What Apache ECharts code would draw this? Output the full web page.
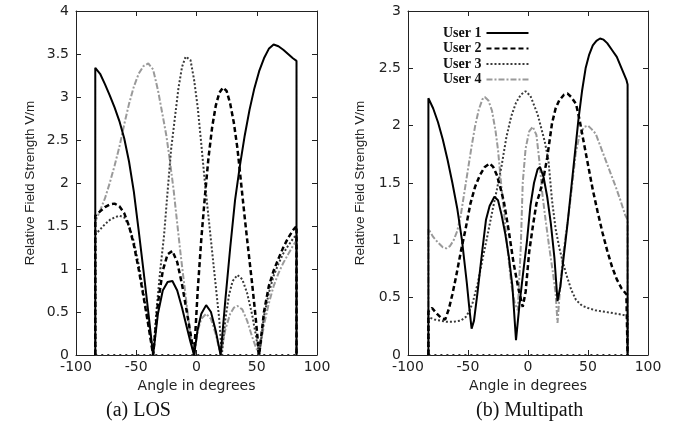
<!DOCTYPE html>
<html>
<head>
<meta charset="utf-8">
<script src="https://cdn.jsdelivr.net/npm/echarts@6/dist/echarts.min.js"></script>
<style>
html,body{margin:0;padding:0;background:#fff;}
#chart{width:683px;height:426px;}
</style>
</head>
<body>
<div id="chart"></div>
<script>
// ---------- Data ----------
const userNames = ['User 1', 'User 2', 'User 3', 'User 4'];
const xTicks = [-100, -50, 0, 50, 100];
const losYMax = 4;
const mpYMax = 3;

// (a) LOS
const losU1Ang = [-84,-84,-80,-76,-72,-68,-64,-60,-56,-52,-48,-44,-40,-36,-32,-28,-24,-20,-16,-12,-8,-5,-2,1,4,8,12,16,20,24,28,32,36,40,44,48,52,56,60,64,68,72,76,80,83,83];
const losU1Val = [0,3.34,3.27,3.15,3.02,2.88,2.72,2.52,2.25,1.9,1.45,0.98,0.5,0,0.48,0.75,0.85,0.86,0.75,0.55,0.32,0.15,0,0.3,0.48,0.58,0.5,0.28,0,0.65,1.25,1.8,2.2,2.55,2.85,3.1,3.3,3.45,3.56,3.61,3.59,3.55,3.5,3.45,3.42,0];

const losU2Ang = [-84,-84,-80,-76,-72,-68,-64,-60,-56,-52,-48,-44,-40,-36,-32,-28,-24,-20,-16,-12,-8,-5,-2,1,4,7,10,13,16,19,22,25,28,31,34,37,40,43,46,49,52,56,60,64,68,72,76,80,83,83];
const losU2Val = [0,1.62,1.67,1.72,1.75,1.76,1.73,1.65,1.5,1.28,1.0,0.68,0.35,0,0.6,0.98,1.17,1.21,1.08,0.82,0.5,0.25,0,0.75,1.35,1.85,2.3,2.65,2.9,3.05,3.11,3.07,2.92,2.7,2.4,2.0,1.6,1.22,0.85,0.45,0,0.5,0.8,0.98,1.12,1.25,1.36,1.45,1.5,0];

const losU3Ang = [-84,-84,-80,-76,-72,-68,-64,-60,-56,-52,-48,-44,-40,-36,-33,-30,-27,-24,-21,-18,-15,-12,-9,-7.5,-5,-2,1,4,7,10,13,16,19,21,24,27,30,34,38,42,46,49,52,56,60,64,68,72,76,80,83,83];
const losU3Val = [0,1.4,1.46,1.52,1.57,1.6,1.62,1.6,1.5,1.32,1.05,0.72,0.38,0,0.55,1.0,1.38,1.9,2.4,2.75,3.1,3.35,3.47,3.49,3.43,3.2,2.88,2.45,2.0,1.6,1.2,0.8,0.4,0,0.42,0.7,0.86,0.93,0.88,0.72,0.48,0.25,0,0.45,0.72,0.92,1.06,1.18,1.27,1.35,1.4,0];

const losU4Ang = [-84,-84,-80,-76,-72,-68,-64,-60,-56,-52,-48,-44,-40,-36,-32,-28,-25,-22,-19,-16,-13,-10,-7,-4,-2,1,4,8,12,16,20,24,28,31,34,38,42,46,49,52,56,60,64,68,72,76,80,83,83];
const losU4Val = [0,1.55,1.68,1.82,2.0,2.2,2.42,2.68,2.92,3.12,3.27,3.36,3.39,3.32,3.08,2.78,2.55,2.25,1.92,1.53,1.15,0.8,0.45,0.15,0,0.28,0.42,0.48,0.42,0.24,0,0.3,0.48,0.55,0.57,0.53,0.4,0.22,0.1,0,0.35,0.6,0.8,0.95,1.07,1.17,1.27,1.33,0];

// (b) Multipath
const mpU1Ang = [-83,-83,-79,-75,-71,-67,-63,-59,-55,-51,-49,-47,-45,-42,-38,-35,-32,-28,-25,-22,-19,-16,-13,-10,-7,-4,-1,2,5,8,10,13,16,19,22,24.6,27,30,33,36,39,42,45,48,51,54,57,60,63,66,70,74,78,82,83,83];
const mpU1Val = [0,2.24,2.15,2.03,1.88,1.7,1.5,1.28,1.0,0.63,0.42,0.23,0.3,0.55,0.92,1.18,1.3,1.38,1.35,1.22,1.06,0.86,0.6,0.13,0.45,0.72,0.98,1.3,1.5,1.62,1.64,1.55,1.38,1.15,0.85,0.47,0.6,0.88,1.15,1.45,1.75,2.05,2.3,2.5,2.62,2.7,2.74,2.76,2.75,2.72,2.66,2.6,2.5,2.4,2.36,0];

const mpU2Ang = [-83,-83,-80,-76,-72,-69,-66,-63,-60,-56,-52,-48,-44,-40,-36,-32,-29,-26,-23,-20,-16,-12,-8,-4.4,-2,1,4,7,10,13,16,20,23,26,30,33,36,40,43,46,50,54,58,62,66,70,74,78,82,83,83];
const mpU2Val = [0,0.38,0.41,0.36,0.32,0.31,0.4,0.53,0.68,0.9,1.1,1.32,1.47,1.57,1.64,1.67,1.64,1.57,1.46,1.33,1.08,0.8,0.58,0.42,0.55,0.9,1.12,1.32,1.42,1.55,1.72,2.02,2.15,2.22,2.27,2.28,2.25,2.19,2.05,1.88,1.66,1.44,1.25,1.07,0.91,0.77,0.66,0.58,0.53,0.52,0];

const mpU3Ang = [-83,-83,-78,-73,-68,-62,-56,-52,-49,-46,-42,-38,-34,-30,-26,-22,-18,-14,-10,-6,-2,2,5,8,11,14,17,20,23,26,29,32,36,40,45,50,56,62,68,74,79,83,83];
const mpU3Val = [0,0.33,0.31,0.3,0.29,0.29,0.3,0.33,0.38,0.46,0.62,0.83,1.03,1.24,1.44,1.65,1.9,2.08,2.2,2.27,2.3,2.26,2.18,2.1,1.98,1.86,1.7,1.35,1.1,0.94,0.81,0.7,0.57,0.48,0.43,0.41,0.39,0.38,0.37,0.36,0.35,0.34,0];

const mpU4Ang = [-83,-83,-79,-75,-71,-68,-65,-62,-59,-56,-53,-50,-47,-44,-41,-38,-36,-33,-30,-27,-25,-22,-19.7,-17,-14,-11,-8.5,-6,-4.4,-2,1,4,7,9.4,12,15,17.7,21,23,24.6,26.5,28.8,31.5,34.3,37,39.8,43,47,50,53,56.4,60,64.7,69,73,77,81,83,83];
const mpU4Val = [0,1.1,1.03,0.98,0.94,0.93,0.95,1.0,1.08,1.22,1.42,1.62,1.82,2.0,2.14,2.23,2.25,2.22,2.13,1.95,1.79,1.45,1.21,0.92,0.62,0.45,0.39,0.95,1.5,1.8,1.95,1.99,1.92,1.7,1.4,1.15,0.94,0.7,0.54,0.28,0.55,0.83,1.05,1.26,1.5,1.76,1.92,1.99,2.0,1.97,1.93,1.83,1.7,1.58,1.47,1.35,1.22,1.18,0];

// dotted baseline drawn along zero between the pattern edges
const losBaseAng = [-84, 83];
const losBaseVal = [0, 0];
const mpBaseAng = [-83, 83];
const mpBaseVal = [0, 0];

// ---------- Build ----------
function zip(a, v) { return a.map((x, i) => [x, v[i]]); }

const styles = [
  { color: '#000000', width: 2, type: 'solid' },
  { color: '#000000', width: 2.5, type: [5, 3] },
  { color: '#3a3a3a', width: 2, type: [2, 2] },
  { color: '#9a9a9a', width: 2, type: [6, 2, 2, 2] }
];

const tickFont = { fontFamily: 'DejaVu Sans', fontSize: 14, color: '#222' };

function xAxes(grid) {
  return [
    { gridIndex: grid, type: 'value', min: -100, max: 100, interval: 50, position: 'bottom',
      axisLine: { show: true, onZero: false, lineStyle: { color: '#222', width: 1 } },
      axisTick: { show: true, inside: true, length: 5, lineStyle: { color: '#222' } },
      axisLabel: Object.assign({ margin: 5 }, tickFont),
      splitLine: { show: false },
      name: 'Angle in degrees', nameLocation: 'middle', nameGap: 21,
      nameTextStyle: { fontFamily: 'DejaVu Sans', fontSize: 14, color: '#222' } },
    { gridIndex: grid, type: 'value', min: -100, max: 100, interval: 50, position: 'top',
      axisLine: { show: true, onZero: false, lineStyle: { color: '#222', width: 1 } },
      axisTick: { show: true, inside: true, length: 5, lineStyle: { color: '#222' } },
      axisLabel: { show: false }, splitLine: { show: false } }
  ];
}
function yAxes(grid, ymax, gap) {
  return [
    { gridIndex: grid, type: 'value', min: 0, max: ymax, interval: 0.5, position: 'left',
      axisLine: { show: true, onZero: false, lineStyle: { color: '#222', width: 1 } },
      axisTick: { show: true, inside: true, length: 5, lineStyle: { color: '#222' } },
      axisLabel: Object.assign({ margin: 7 }, tickFont),
      splitLine: { show: false },
      name: 'Relative Field Strength V/m', nameLocation: 'middle', nameGap: gap, nameRotate: 90,
      nameTextStyle: { fontFamily: 'Liberation Sans', fontSize: 13.5, color: '#222' } },
    { gridIndex: grid, type: 'value', min: 0, max: ymax, interval: 0.5, position: 'right',
      axisLine: { show: true, onZero: false, lineStyle: { color: '#222', width: 1 } },
      axisTick: { show: true, inside: true, length: 5, lineStyle: { color: '#222' } },
      axisLabel: { show: false }, splitLine: { show: false } }
  ];
}

const losSets = [[losU1Ang, losU1Val], [losU2Ang, losU2Val], [losU3Ang, losU3Val], [losU4Ang, losU4Val]];
const mpSets = [[mpU1Ang, mpU1Val], [mpU2Ang, mpU2Val], [mpU3Ang, mpU3Val], [mpU4Ang, mpU4Val]];

const series = [];
function addBase(xi, yi, a, v) {
  series.push({ type: 'line', name: 'base', xAxisIndex: xi, yAxisIndex: yi, data: zip(a, v),
    symbol: 'none', silent: true, z: 1,
    lineStyle: { color: '#333', width: 2, type: [2, 4] } });
}
addBase(0, 0, losBaseAng, losBaseVal);
addBase(2, 2, mpBaseAng, mpBaseVal);
function addUser(sets, xi, yi) {
  sets.forEach((s, i) => {
    series.push({ type: 'line', name: userNames[i], xAxisIndex: xi, yAxisIndex: yi,
      data: zip(s[0], s[1]), symbol: 'none', z: 5 - i,
      itemStyle: { color: styles[i].color },
      lineStyle: { color: styles[i].color, width: styles[i].width, type: styles[i].type } });
  });
}
addUser(losSets, 0, 0);
addUser(mpSets, 2, 2);

const chart = echarts.init(document.getElementById('chart'), null, { renderer: 'canvas' });
chart.setOption({
  animation: false,
  backgroundColor: '#ffffff',
  grid: [
    { left: 76, top: 11, width: 241, height: 344 },
    { left: 408, top: 11, width: 240, height: 344 }
  ],
  xAxis: xAxes(0).concat(xAxes(1)),
  yAxis: yAxes(0, losYMax, 39).concat(yAxes(1, mpYMax, 41)),
  legend: {
    data: userNames, orient: 'vertical', left: 438, top: 21,
    align: 'right', itemWidth: 42, itemHeight: 14, itemGap: 1.5,
    itemStyle: { opacity: 0 },
    textStyle: { fontFamily: 'Liberation Serif', fontWeight: 'bold', fontSize: 14, color: '#111', width: 47 }
  },
  graphic: [
    { type: 'text', left: 140 - 34, top: 401, style: { text: '(a) LOS', font: '20px "Liberation Serif"', fill: '#111' } },
    { type: 'text', left: 534 - 58, top: 401, style: { text: '(b) Multipath', font: '20px "Liberation Serif"', fill: '#111' } }
  ],
  series: series
});
</script>
</body>
</html>
